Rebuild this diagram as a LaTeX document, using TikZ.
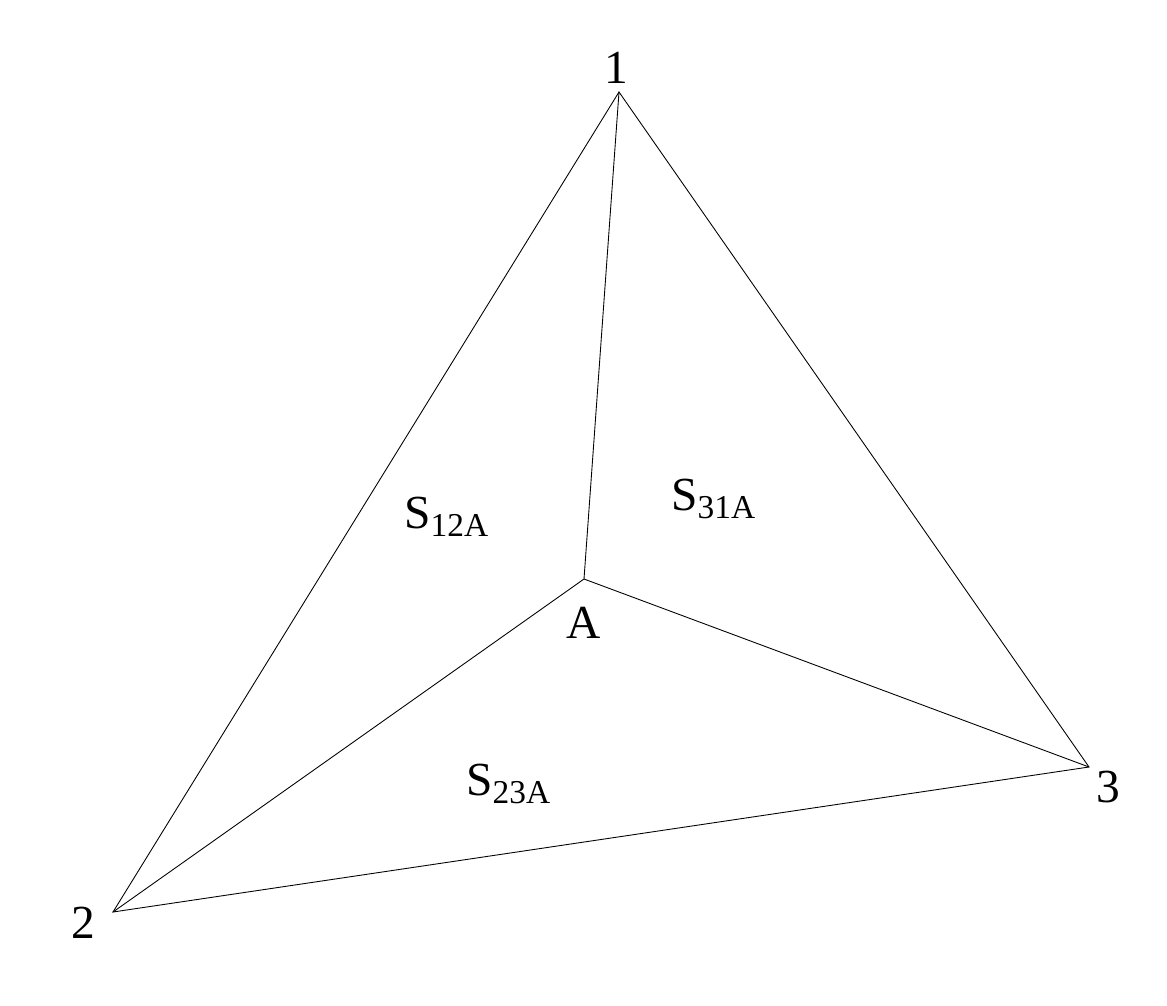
\documentclass[tikz,border=0pt]{standalone}
\usepackage{fontspec}
\setmainfont{Liberation Serif}
\usetikzlibrary{calc}

\newcommand{\surf}[1]{S\raisebox{-9\unitlength}{\fontsize{19}{19}\selectfont #1}}
\setlength{\unitlength}{0.567pt}

\begin{document}
\begin{tikzpicture}[x=0.02cm,y=-0.02cm,
  lab/.style={inner sep=0pt,anchor=base,font=\fontsize{27}{27}\selectfont},
  area/.style={inner sep=0pt,anchor=base west,font=\fontsize{27}{27}\selectfont}]

 \useasboundingbox (0,0) rectangle (1167,1005);

 \coordinate (p1) at (619,92);
 \coordinate (p2) at (113,912);
 \coordinate (p3) at (1089,767);
 \coordinate (pA) at (584,579);

 \draw[line width=0.5pt] (p1) -- (p2) -- (p3) -- cycle;
 \draw[line width=0.5pt] (pA) -- (p1);
 \draw[line width=0.5pt] (pA) -- (p2);
 \draw[line width=0.5pt] (pA) -- (p3);

 \node[lab] (l1) at (616,83) {1};
 \node[lab] (l2) at (83,938) {2};
 \node[lab] (l3) at (1108,802) {3};
 \node[lab] (lA) at (584,638) {A};

 \node[area] (s12) at (404,528) {\surf{12A}};
 \node[area] (s31) at (671,510) {\surf{31A}};
 \node[area] (s23) at (466,795) {\surf{23A}};
\end{tikzpicture}
\end{document}
